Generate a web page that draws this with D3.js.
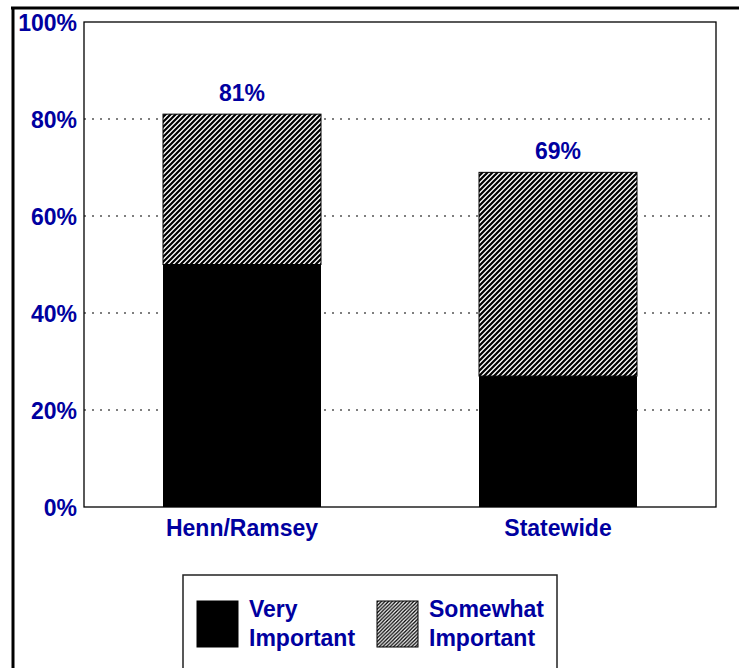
<!DOCTYPE html>
<html><head><meta charset="utf-8">
<script src="https://cdn.jsdelivr.net/npm/d3@7"></script>
<style>body{margin:0;background:#fff}svg{display:block}</style>
</head><body>
<svg id="c" width="739" height="668"></svg>
<script>
const categories = ["Henn/Ramsey", "Statewide"];
const veryImportant = [50, 27];
const somewhatImportant = [31, 42];
const totalLabels = ["81%", "69%"];
const yTicks = [0, 20, 40, 60, 80, 100];
const seriesNames = ["Very\nImportant", "Somewhat\nImportant"];

const svg = d3.select("#c");
const blue = "#0000a0";
const font = "'Liberation Sans', Arial, sans-serif";

const defs = svg.append("defs");
const P = 5;
const pat = defs.append("pattern").attr("id","hatch").attr("patternUnits","userSpaceOnUse")
  .attr("width",P).attr("height",P);
pat.append("rect").attr("width",P).attr("height",P).attr("fill","#fff");
pat.append("path").attr("d",`M-1,1 L1,-1 M0,${P} L${P},0 M${P-1},${P+1} L${P+1},${P-1}`)
  .attr("stroke","#000").attr("stroke-width",2.2);
const P2 = 3.6;
const pat2 = defs.append("pattern").attr("id","hatch2").attr("patternUnits","userSpaceOnUse")
  .attr("width",P2).attr("height",P2);
pat2.append("rect").attr("width",P2).attr("height",P2).attr("fill","#fff");
pat2.append("path").attr("d",`M-1,1 L1,-1 M0,${P2} L${P2},0 M${P2-1},${P2+1} L${P2+1},${P2-1}`)
  .attr("stroke","#000").attr("stroke-width",1.3);

// outer frame
svg.append("line").attr("x1",11).attr("x2",739).attr("y1",8).attr("y2",8).attr("stroke","#000").attr("stroke-width",3);
svg.append("line").attr("x1",13).attr("x2",13).attr("y1",7).attr("y2",668).attr("stroke","#000").attr("stroke-width",3);

const L = 84, R = 716, T = 22, B = 507;
const x = d3.scaleBand().domain(categories).range([L, R]).paddingInner(0.5).paddingOuter(0.25);
const y = d3.scaleLinear().domain([0, 100]).range([B, T]);

// gridlines
svg.append("g").selectAll("line").data(yTicks.filter(t => t > 0 && t < 100)).join("line")
  .attr("x1", L).attr("x2", R).attr("y1", d => y(d)).attr("y2", d => y(d))
  .attr("stroke","#000").attr("stroke-width",1.2).attr("stroke-dasharray","2,6");

// bars
const g = svg.append("g");
categories.forEach((c, i) => {
  g.append("rect").attr("x", x(c)).attr("width", x.bandwidth())
    .attr("y", y(veryImportant[i])).attr("height", y(0) - y(veryImportant[i])).attr("fill","#000");
  const top = veryImportant[i] + somewhatImportant[i];
  g.append("rect").attr("x", x(c)).attr("width", x.bandwidth())
    .attr("y", y(top)).attr("height", y(veryImportant[i]) - y(top))
    .attr("fill","url(#hatch)").attr("stroke","#000").attr("stroke-width",1);
  svg.append("text").attr("x", x(c) + x.bandwidth()/2).attr("y", y(top) - 13)
    .attr("text-anchor","middle").attr("font-family",font).attr("font-weight","bold")
    .attr("font-size",23).attr("fill",blue).text(totalLabels[i]);
});

// plot border
svg.append("rect").attr("x",L).attr("y",T).attr("width",R-L).attr("height",B-T)
  .attr("fill","none").attr("stroke","#000").attr("stroke-width",1.3);

// y axis labels
const yAxis = d3.axisLeft(y).tickValues(yTicks).tickFormat(d => d + "%").tickSize(0).tickPadding(7);
const ya = svg.append("g").attr("transform",`translate(${L},0)`).call(yAxis);
ya.select(".domain").remove();
ya.selectAll("text").attr("font-family",font).attr("font-weight","bold").attr("font-size",23)
  .attr("fill",blue).attr("dy","0.36em");

// x axis labels
const xAxis = d3.axisBottom(x).tickSize(0).tickPadding(13);
const xa = svg.append("g").attr("transform",`translate(0,${B})`).call(xAxis);
xa.select(".domain").remove();
xa.selectAll("text").attr("font-family",font).attr("font-weight","bold").attr("font-size",23)
  .attr("fill",blue).attr("dy","0.71em");

// legend
svg.append("rect").attr("x",183).attr("y",575).attr("width",374).attr("height",120)
  .attr("fill","#fff").attr("stroke","#222").attr("stroke-width",1.5);
const legendItems = [
  {fill:"#000", sx:197, tx:249, name:seriesNames[0]},
  {fill:"url(#hatch2)", sx:377, tx:429, name:seriesNames[1]}
];
legendItems.forEach(it => {
  svg.append("rect").attr("x",it.sx).attr("y",601).attr("width",41).attr("height",46)
    .attr("fill",it.fill).attr("stroke","#000").attr("stroke-width",1);
  const t = svg.append("text").attr("font-family",font).attr("font-weight","bold")
    .attr("font-size",23).attr("fill",blue);
  it.name.split("\n").forEach((s, k) => {
    t.append("tspan").attr("x", it.tx).attr("y", 617 + k*29).text(s);
  });
});
</script>
</body></html>
